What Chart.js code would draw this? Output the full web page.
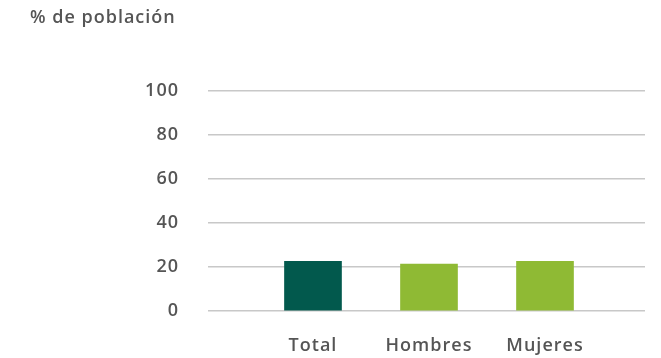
<!DOCTYPE html>
<html lang="es">
<head>
    <meta charset="UTF-8">
    <title>% de población</title>
    <script src="https://cdn.jsdelivr.net/npm/chart.js"></script>
    <style>
        html, body {
            margin: 0;
            padding: 0;
            background: #ffffff;
        }
        .chart-container {
            position: relative;
            width: 661px;
            height: 358px;
        }
    </style>
</head>
<body>
    <div class="chart-container">
        <canvas id="barChart"></canvas>
    </div>

    <script>
        const categories = ['Total', 'Hombres', 'Mujeres'];
        const values = [22.6, 21.3, 22.6];
        const barColors = ['#02594d', '#8fba34', '#8fba34'];
        const yTicks = [0, 20, 40, 60, 80, 100];
        const unitLabel = '% de población';

        const fontFamily = "'Open Sans', sans-serif";
        const textColor = '#555555';

        // wider tracking for all canvas text
        const spacingPlugin = {
            id: 'spacing',
            beforeDraw(chart) {
                chart.ctx.letterSpacing = '1px';
            }
        };

        // unit label in the top left corner
        const unitLabelPlugin = {
            id: 'unitLabel',
            afterDraw(chart) {
                const ctx = chart.ctx;
                ctx.save();
                ctx.font = "600 18px " + fontFamily;
                ctx.fillStyle = textColor;
                ctx.textAlign = 'left';
                ctx.textBaseline = 'middle';
                ctx.fillText(unitLabel, 30, 18);
                ctx.restore();
            }
        };

        const ctx = document.getElementById('barChart').getContext('2d');
        const barChart = new Chart(ctx, {
            type: 'bar',
            data: {
                datasets: [{
                    data: values.map((v, i) => ({ x: i, y: v })),
                    backgroundColor: barColors,
                    barThickness: 57,
                    borderWidth: 0
                }]
            },
            options: {
                responsive: true,
                maintainAspectRatio: false,
                animation: false,
                layout: { padding: { top: 91, left: 30, right: 16, bottom: 0 } },
                plugins: {
                    legend: { display: false },
                    title: { display: false },
                    tooltip: { enabled: false }
                },
                scales: {
                    x: {
                        type: 'linear',
                        offset: false,
                        min: -0.905,
                        max: 2.862,
                        afterBuildTicks: scale => {
                            scale.ticks = categories.map((c, i) => ({ value: i }));
                        },
                        afterFit: scale => { scale.height = 47; },
                        ticks: {
                            callback: value => categories[value],
                            color: textColor,
                            font: { family: fontFamily, size: 18, weight: '600' },
                            padding: 24,
                            maxRotation: 0
                        },
                        grid: { display: false, drawTicks: false },
                        border: { display: false }
                    },
                    y: {
                        min: 0,
                        max: 100,
                        afterBuildTicks: scale => {
                            scale.ticks = yTicks.map(v => ({ value: v }));
                        },
                        afterFit: scale => { scale.width = 178; },
                        ticks: {
                            color: textColor,
                            font: { family: fontFamily, size: 18, weight: '600' },
                            padding: 29
                        },
                        grid: { color: '#c8c8c8', lineWidth: 1.5, drawTicks: false },
                        border: { display: false }
                    }
                }
            },
            plugins: [spacingPlugin, unitLabelPlugin]
        });
    </script>
</body>
</html>
